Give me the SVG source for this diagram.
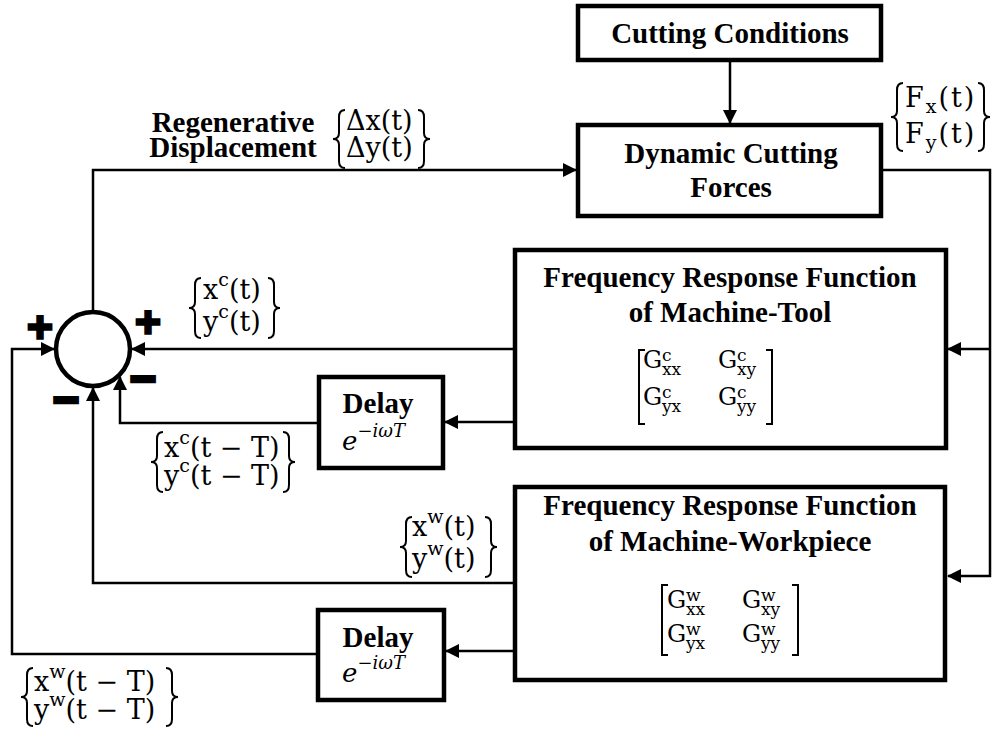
<svg xmlns="http://www.w3.org/2000/svg" width="992" height="731" viewBox="0 0 992 731">
  <defs>
    <marker id="arrow" markerUnits="userSpaceOnUse" markerWidth="14" markerHeight="14" viewBox="0 0 14 14" refX="13" refY="7" orient="auto">
      <path d="M0,0 L14,7 L0,14 z" fill="#000"/>
    </marker>
    <style>
      .box { fill: #fff; stroke: #000; stroke-width: 4.5; }
      .wire { fill: none; stroke: #000; stroke-width: 2.5; }
      .arr { marker-end: url(#arrow); }
      .title { font-family: "Liberation Serif", "Times New Roman", serif; font-weight: bold; font-size: 29px; fill: #000; text-anchor: middle; }
      .m { font-family: "DejaVu Serif", serif; font-size: 27px; fill: #000; }
      .sup { font-size: 19px; }
      .g { font-family: "DejaVu Serif", serif; font-size: 24px; fill: #000; }
      .gs { font-family: "DejaVu Serif", serif; font-size: 17px; fill: #000; }
      .ex { font-family: "DejaVu Serif", serif; font-style: italic; font-size: 26px; fill: #000; }
      .exs { font-size: 18px; }
      .delim { fill: none; stroke: #000; stroke-width: 2; }
      .sign { font-family: "DejaVu Sans", sans-serif; font-weight: bold; font-size: 34px; fill: #000; stroke: #000; text-anchor: middle; }
    </style>
  </defs>

  <!-- connectors -->
  <g id="connectors">
    <path class="wire arr" d="M730,62 V123"/>
    <path class="wire arr" d="M93,311 V170 H576"/>
    <path class="wire arr" d="M883,170 H990 V576 H948"/>
    <path class="wire arr" d="M990,349 H948"/>
    <path class="wire arr" d="M513,349 H132"/>
    <path class="wire arr" d="M513,422 H445"/>
    <path class="wire arr" d="M317,423 H120 V377"/>
    <path class="wire arr" d="M513,583 H93 V388"/>
    <path class="wire arr" d="M513,651 H446"/>
    <path class="wire arr" d="M316,654 H12 V349 H54"/>
  </g>

  <!-- summing junction with its signs -->
  <g id="sum">
    <circle cx="93" cy="349" r="37" fill="#fff" stroke="#000" stroke-width="4.5"/>
    <text class="sign" x="40" y="338" stroke-width="3.5">+</text>
    <text class="sign" x="148" y="333" stroke-width="3.5">+</text>
    <text class="sign" x="143" y="390" stroke-width="4.5">−</text>
    <text class="sign" x="66" y="411" stroke-width="4.5">−</text>
  </g>

  <g id="cutting-conditions">
    <rect class="box" x="578" y="6" width="303" height="54"/>
    <text class="title" x="730" y="43">Cutting Conditions</text>
  </g>

  <g id="dynamic-cutting-forces">
    <rect class="box" x="578" y="125" width="303" height="91"/>
    <text class="title" x="731" y="163">Dynamic Cutting</text>
    <text class="title" x="731" y="197">Forces</text>
  </g>

  <g id="frf-tool">
    <rect class="box" x="515" y="250" width="431" height="198"/>
    <text class="title" x="730" y="287">Frequency Response Function</text>
    <text class="title" x="730" y="322">of Machine-Tool</text>
    <path class="delim" d="M645,350 H639 V424 H645"/>
    <path class="delim" d="M766,350 H772 V424 H766"/>
    <text class="g" x="643" y="368">G</text>
    <text class="gs" x="662" y="361">c</text>
    <text class="gs" x="662" y="375">xx</text>
    <text class="g" x="718" y="368">G</text>
    <text class="gs" x="737" y="361">c</text>
    <text class="gs" x="737" y="375">xy</text>
    <text class="g" x="643" y="405">G</text>
    <text class="gs" x="662" y="398">c</text>
    <text class="gs" x="662" y="412">yx</text>
    <text class="g" x="718" y="405">G</text>
    <text class="gs" x="737" y="398">c</text>
    <text class="gs" x="737" y="412">yy</text>
  </g>

  <g id="frf-workpiece">
    <rect class="box" x="515" y="487" width="430" height="193"/>
    <text class="title" x="730" y="515">Frequency Response Function</text>
    <text class="title" x="730" y="551">of Machine-Workpiece</text>
    <path class="delim" d="M668,585 H662 V655 H668"/>
    <path class="delim" d="M792,585 H798 V655 H792"/>
    <text class="g" x="667" y="608">G</text>
    <text class="gs" x="686" y="601">w</text>
    <text class="gs" x="686" y="615">xx</text>
    <text class="g" x="742" y="608">G</text>
    <text class="gs" x="761" y="601">w</text>
    <text class="gs" x="761" y="615">xy</text>
    <text class="g" x="667" y="642">G</text>
    <text class="gs" x="686" y="635">w</text>
    <text class="gs" x="686" y="649">yx</text>
    <text class="g" x="742" y="642">G</text>
    <text class="gs" x="761" y="635">w</text>
    <text class="gs" x="761" y="649">yy</text>
  </g>

  <g id="delay-tool">
    <rect class="box" x="319" y="377" width="124" height="91"/>
    <text class="title" x="378" y="413">Delay</text>
    <text class="ex" x="342" y="450">e<tspan class="exs" dy="-13">−iωT</tspan></text>
  </g>

  <g id="delay-workpiece">
    <rect class="box" x="318" y="610" width="126" height="90"/>
    <text class="title" x="378" y="647">Delay</text>
    <text class="ex" x="342" y="682">e<tspan class="exs" dy="-13">−iωT</tspan></text>
  </g>

  <!-- signal labels -->
  <g id="label-regen">
    <text class="title" x="233" y="132">Regenerative</text>
    <text class="title" x="233" y="157">Displacement</text>
    <path class="delim" d="M345,110 Q339,110 339,117 V133 Q339,139 333,139 Q339,139 339,145 V161 Q339,168 345,168"/>
    <text class="m" x="346" y="130">Δx(t)</text>
    <text class="m" x="346" y="157">Δy(t)</text>
    <path class="delim" d="M418,110 Q424,110 424,117 V133 Q424,139 430,139 Q424,139 424,145 V161 Q424,168 418,168"/>
  </g>

  <g id="label-force">
    <path class="delim" d="M903,83 Q897,83 897,90 V111 Q897,117 891,117 Q897,117 897,123 V144 Q897,151 903,151"/>
    <text class="m" x="905" y="107" letter-spacing="2">F<tspan class="sup" dy="6">x</tspan><tspan dy="-6">(t)</tspan></text>
    <text class="m" x="905" y="143" letter-spacing="2">F<tspan class="sup" dy="6">y</tspan><tspan dy="-6">(t)</tspan></text>
    <path class="delim" d="M978,83 Q984,83 984,90 V111 Q984,117 990,117 Q984,117 984,123 V144 Q984,151 978,151"/>
  </g>

  <g id="label-xc">
    <path class="delim" d="M201,278 Q195,278 195,285 V302 Q195,308 189,308 Q195,308 195,314 V331 Q195,338 201,338"/>
    <text class="m" x="203" y="299">x<tspan class="sup" dy="-13">c</tspan><tspan dy="13">(t)</tspan></text>
    <text class="m" x="203" y="331">y<tspan class="sup" dy="-13">c</tspan><tspan dy="13">(t)</tspan></text>
    <path class="delim" d="M268,278 Q274,278 274,285 V302 Q274,308 280,308 Q274,308 274,314 V331 Q274,338 268,338"/>
  </g>

  <g id="label-xc-delay">
    <path class="delim" d="M163,432 Q157,432 157,439 V456 Q157,462 151,462 Q157,462 157,468 V485 Q157,492 163,492"/>
    <text class="m" x="164" y="457">x<tspan class="sup" dy="-13">c</tspan><tspan dy="13">(t − T)</tspan></text>
    <text class="m" x="164" y="485">y<tspan class="sup" dy="-13">c</tspan><tspan dy="13">(t − T)</tspan></text>
    <path class="delim" d="M283,432 Q289,432 289,439 V456 Q289,462 295,462 Q289,462 289,468 V485 Q289,492 283,492"/>
  </g>

  <g id="label-xw">
    <path class="delim" d="M412,517 Q406,517 406,524 V541 Q406,547 400,547 Q406,547 406,553 V570 Q406,577 412,577"/>
    <text class="m" x="412" y="536">x<tspan class="sup" dy="-13">w</tspan><tspan dy="13">(t)</tspan></text>
    <text class="m" x="412" y="568">y<tspan class="sup" dy="-13">w</tspan><tspan dy="13">(t)</tspan></text>
    <path class="delim" d="M485,517 Q491,517 491,524 V541 Q491,547 497,547 Q491,547 491,553 V570 Q491,577 485,577"/>
  </g>

  <g id="label-xw-delay">
    <path class="delim" d="M33,668 Q27,668 27,675 V691 Q27,697 21,697 Q27,697 27,703 V719 Q27,726 33,726"/>
    <text class="m" x="34" y="691">x<tspan class="sup" dy="-13">w</tspan><tspan dy="13">(t − T)</tspan></text>
    <text class="m" x="34" y="719">y<tspan class="sup" dy="-13">w</tspan><tspan dy="13">(t − T)</tspan></text>
    <path class="delim" d="M166,668 Q172,668 172,675 V691 Q172,697 178,697 Q172,697 172,703 V719 Q172,726 166,726"/>
  </g>
</svg>
